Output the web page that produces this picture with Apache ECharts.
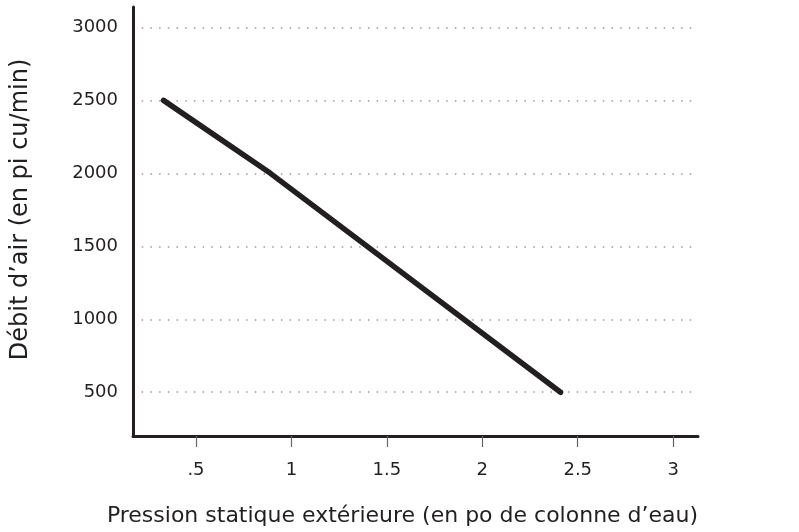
<!DOCTYPE html>
<html>
<head>
<meta charset="utf-8">
<script src="https://cdn.jsdelivr.net/npm/echarts@6/dist/echarts.min.js"></script>
<style>html,body{margin:0;padding:0;background:#fff;}#c{width:799px;height:532px;}</style>
</head>
<body>
<div id="c"></div>
<script>
const pressure = [0.33, 0.89, 2.41];
const airflow = [2500, 2000, 500];
const xTicks = [0.5, 1, 1.5, 2, 2.5, 3];
const yTicks = [500, 1000, 1500, 2000, 2500, 3000];
const xName = "Pression statique extérieure (en po de colonne d’eau)";
const yName = "Débit d’air (en pi cu/min)";

const font = "DejaVu Sans";
const chart = echarts.init(document.getElementById('c'), null, {renderer: 'canvas'});
chart.setOption({
  animation: false,
  grid: {left: 133, right: 101, top: 7, bottom: 91},
  xAxis: {
    type: 'value', min: 0.17, max: 3.13,
    name: xName, nameLocation: 'middle', nameGap: 69,
    nameTextStyle: {fontFamily: font, fontSize: 22, color: '#231f20', padding: [0, 26, 0, 0]},
    axisLine: {show: true, lineStyle: {color: '#231f20', width: 3}},
    axisTick: {show: true, customValues: xTicks, length: 11, inside: false, lineStyle: {color: '#666', width: 1.2}},
    axisLabel: {customValues: xTicks, margin: 25, fontFamily: font, fontSize: 18, color: '#231f20',
      formatter: v => String(v).replace(/^0\./, '.')},
    splitLine: {show: false}
  },
  yAxis: {
    type: 'value', min: 200, max: 3140,
    name: yName, nameLocation: 'middle', nameGap: 100,
    nameTextStyle: {fontFamily: font, fontSize: 24, color: '#231f20', padding: [0, 0, 0, 24]},
    axisLine: {show: true, lineStyle: {color: '#231f20', width: 3}},
    axisTick: {show: false, customValues: yTicks},
    axisLabel: {customValues: yTicks, margin: 15, fontFamily: font, fontSize: 18, color: '#231f20',
      formatter: v => String(v)},
    splitLine: {show: true, lineStyle: {color: '#999', width: 1.5, type: [1.5, 7.2]}}
  },
  series: [{
    type: 'line',
    data: pressure.map((p, i) => [p, airflow[i]]),
    showSymbol: false,
    lineStyle: {color: '#231f20', width: 5.5, cap: 'round', join: 'round'},
    z: 5
  }]
});
</script>
</body>
</html>
